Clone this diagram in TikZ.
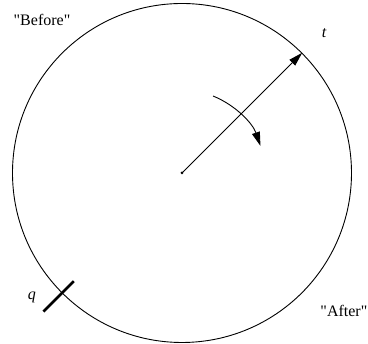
\documentclass[tikz,border=0pt]{standalone}
\usepackage{fontspec}
\setmainfont{Liberation Serif}
\usetikzlibrary{arrows.meta}

\begin{document}
\begin{tikzpicture}[
  x=1pt, y=1pt,
  label/.style={font=\fontsize{16}{19}\selectfont, inner sep=0pt},
  arrow/.style={-{Triangle[length=14pt, width=8pt]}, line width=0.9pt},
  tickmark/.style={line width=2.6pt}
]
  \useasboundingbox (-182,-171) rectangle (186,173);
  \node[draw, circle, line width=0.9pt, minimum size=339pt, inner sep=0pt] (rim) at (0,0) {};
  \node[fill, circle, inner sep=0pt, minimum size=3pt] (ctr) at (0,0) {};

  % radius and sweep
  \draw[arrow, shorten <=-1pt] (ctr) -- (rim.45);
  \coordinate (sweepfrom) at (68:83);
  \draw[arrow] (sweepfrom) arc[start angle=68, end angle=19, radius=83];

  % mark on the rim
  \coordinate (qin) at (225:153);
  \coordinate (qout) at (225:196);
  \draw[tickmark] (qin) -- (qout);

  \node[label] (before) at (-140,153) {\textquotedbl Before\textquotedbl};
  \node[label, font=\fontsize{16}{19}\selectfont\itshape] (tlabel) at (142,140) {t};
  \node[label, font=\fontsize{16}{19}\selectfont\itshape] (qlabel) at (-150,-124) {q};
  \node[label, anchor=east] (after) at (185.5,-138) {\textquotedbl After\textquotedbl};
\end{tikzpicture}
\end{document}
